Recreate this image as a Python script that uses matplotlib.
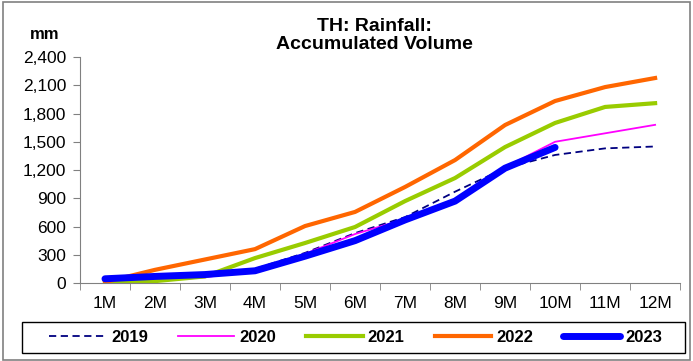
import matplotlib.pyplot as plt
from matplotlib.patches import Rectangle

plt.rcParams['font.family'] = ['Liberation Sans', 'DejaVu Sans']

months = ['1M', '2M', '3M', '4M', '5M', '6M', '7M', '8M', '9M', '10M', '11M', '12M']
rain_2019 = [40, 70, 90, 150, 320, 530, 700, 970, 1220, 1360, 1430, 1450]
rain_2020 = [10, 25, 60, 140, 310, 520, 680, 890, 1230, 1500, 1590, 1680]
rain_2021 = [0, 20, 70, 265, 425, 595, 870, 1115, 1444, 1700, 1870, 1910]
rain_2022 = [10, 140, 250, 360, 605, 755, 1020, 1306, 1678, 1933, 2081, 2177]
rain_2023 = [45, 70, 90, 130, 285, 450, 670, 870, 1220, 1440]

fig = plt.figure(figsize=(6.93, 3.61), dpi=100)
ax = fig.add_axes([0.1154, 0.216, 0.866, 0.626])

x = list(range(len(months)))
ax.plot(x, rain_2019, color='#000080', lw=1.3, ls=(0, (4, 2.5)), label='2019')
ax.plot(x, rain_2020, color='#ff00ff', lw=1.3, label='2020')
ax.plot(x, rain_2021, color='#99cc00', lw=3, label='2021')
ax.plot(x, rain_2022, color='#ff6600', lw=3, label='2022')
ax.plot(x[:len(rain_2023)], rain_2023, color='#0000ff', lw=5, solid_capstyle='round', label='2023')

ax.set_xlim(-0.5, 11.5)
ax.set_ylim(0, 2400)
ax.set_yticks(range(0, 2401, 300))
ax.set_yticklabels([f'{v:,}' for v in range(0, 2401, 300)], fontsize=12.5)
ax.set_xticks(x)
ax.set_xticklabels(months, fontsize=12.5)
ax.set_xticks([i - 0.5 for i in range(13)], minor=True)
ax.tick_params(axis='x', which='major', length=0, pad=9)
ax.tick_params(axis='x', which='minor', length=5, color='#808080')
ax.tick_params(axis='y', length=5, color='#808080', pad=5)
for s in ['top', 'right']:
    ax.spines[s].set_visible(False)
for s in ['left', 'bottom']:
    ax.spines[s].set_color('#808080')

ax.set_title('TH: Rainfall:\nAccumulated Volume', fontsize=14, fontweight='bold', pad=6,
             x=0.49, linespacing=1.05)
fig.text(0.065, 0.905, 'mm', fontsize=12, fontweight='bold', ha='center', va='center')

# legend entries without frame, box drawn separately (wider side padding)
leg = fig.legend(loc='center', bbox_to_anchor=(0.513, 0.066), ncol=5, frameon=False,
                 prop={'weight': 'bold', 'size': 12},
                 handlelength=3.4, handletextpad=0.3, columnspacing=1.8, borderpad=0.3,
                 borderaxespad=0)
fig.patches.append(Rectangle((22 / 693, 1 - 353 / 361), 663 / 693, 31 / 361,
                             transform=fig.transFigure, fill=False, edgecolor='black', lw=1))

fig.patches.append(Rectangle((0.004, 0.004), 0.992, 0.99, transform=fig.transFigure,
                             fill=False, edgecolor='#808080', lw=1.2))

fig.savefig('out.png', dpi=100)
